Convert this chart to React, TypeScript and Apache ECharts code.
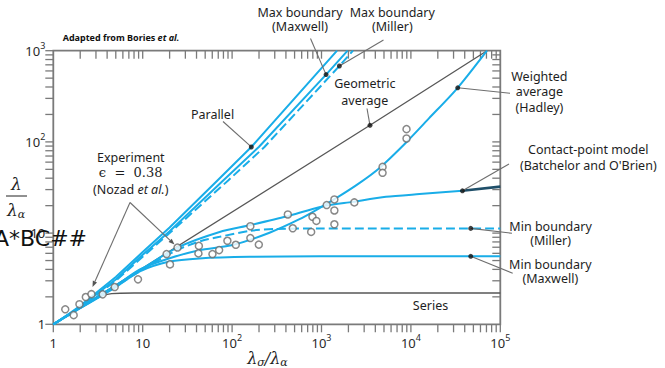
import React, { useEffect, useRef } from 'react';
import * as echarts from 'echarts';

// ---------- data ----------
const xTickLabels = ['1', '10', '10^2', '10^3', '10^4', '10^5'];
const yTickLabels = ['1', '10', '10^2', '10^3'];
const tickMantissas = [1, 2, 3, 4, 5, 6, 7, 8, 9];

const parallel = [[1, 1], [1.5, 1.3], [2, 1.6], [3, 2.2], [5, 3.3], [10, 6.2], [20, 11.5], [69, 38], [164, 88], [1493, 1000]];
const maxMaxwell = [[1, 1], [1.5, 1.29], [2, 1.56], [3, 2.12], [5, 3.1], [10, 5.8], [20, 10.5], [80, 38], [199, 88], [1125, 547], [1960, 1000]];
const maxMiller = [[1, 1], [1.5, 1.28], [2, 1.54], [3, 2.08], [5, 3.0], [10, 5.5], [20, 10], [91, 38], [230, 88], [1585, 680], [2250, 1000]];
const geometric = [[1, 1], [3486, 152], [71000, 1000]];
const hadley = [[1, 1], [2, 1.52], [5, 2.65], [9.3, 4.0], [20, 5.3], [43, 6.5], [102, 7.4], [262, 10.1], [567, 14.2], [948, 18.8], [1584, 25.4], [2649, 35.3], [4428, 51.5], [8790, 98], [16000, 182], [33400, 392], [71000, 1000]];
const contact = [[1, 1], [2, 1.53], [5, 2.68], [10, 4.1], [24, 6.9], [72.5, 10.3], [157, 12.2], [403, 15.2], [1000, 19.5], [2230, 22], [5260, 25], [12470, 26.8], [37700, 29.1]];
const contactEnd = [[37700, 29.1], [100000, 32.3]];
const minMiller = [[1, 1], [2, 1.52], [5, 2.6], [10, 4.0], [24, 6.5], [45, 8.2], [72.5, 9.1], [160, 10.6], [300, 11.1], [1000, 11.26], [100000, 11.26]];
const minMaxwell = [[1, 1], [2, 1.5], [3.3, 2.0], [5, 2.55], [9.3, 3.8], [20, 4.87], [43, 5.28], [157, 5.5], [950, 5.56], [100000, 5.56]];
const seriesModel = [[1, 1], [2, 1.5], [3, 1.9], [3.5, 2.05], [4.5, 2.17], [8, 2.2], [100000, 2.2]];

const experiment = [
  [1.36, 1.46], [1.69, 1.26], [1.96, 1.66], [2.31, 1.99], [2.67, 2.14], [3.57, 2.13], [4.86, 2.56],
  [8.86, 3.11], [18.5, 5.89], [20.2, 4.54], [24.5, 6.94], [42.5, 7.24], [42, 5.99], [60.3, 5.89],
  [71.6, 6.51], [88.6, 8.24], [110, 7.45], [160, 8.82], [160, 11.9], [199, 7.48], [420, 16.0],
  [477, 11.3], [766, 10.3], [792, 15.1], [877, 13.6], [1143, 20.3], [1393, 23.4], [1393, 17.7],
  [1393, 12.5], [2329, 21.7], [4820, 53.2], [4820, 45.8], [8931, 138], [8931, 109],
];

// anchor dots of the annotation pointers (on the curves)
const anchorParallel = [164, 88];
const anchorMaxMaxwell = [1125, 547];
const anchorMaxMiller = [1585, 680];
const anchorGeometric = [3486, 152];
const anchorHadley = [33400, 392];
const anchorContact = [37700, 29.1];
const anchorMinMiller = [46700, 11.26];
const anchorMinMaxwell = [46700, 5.56];

// ---------- styles ----------
const BLUE = '#19ade8';
const GREY = '#575757';
const FRAME = '#7a7a7a';
const TXT = '#1e1e1e';
const SANS = "'Noto Sans', sans-serif";
const SERIF = "'DejaVu Serif', serif";

function tickLabel(labels: string[]) {
  return (val: number) => {
    const e = Math.round(Math.log10(val));
    const lab = labels[e];
    if (lab === undefined) return '';
    const parts = lab.split('^');
    return parts.length > 1 ? `{b|${parts[0]}}{s|${parts[1]}}` : `{b|${parts[0]}}`;
  };
}

const labelRich = {
  b: { fontSize: 13, fontFamily: SANS, color: '#2a2a2a', lineHeight: 20, verticalAlign: 'middle' },
  s: { fontSize: 9, fontFamily: SANS, color: '#2a2a2a', lineHeight: 8, verticalAlign: 'top' },
};

function line(name: string, data: number[][], color: string, width: number, dashed = false, smooth = true) {
  return {
    type: 'line',
    name,
    data,
    symbol: 'none',
    showSymbol: false,
    smooth: smooth ? 0.25 : false,
    lineStyle: { color, width, type: dashed ? [9, 4] : 'solid' },
    silent: true,
    z: 3,
  };
}

export default function App() {
  const ref = useRef<HTMLDivElement>(null);

  useEffect(() => {
    const chart = echarts.init(ref.current as HTMLDivElement, undefined, { renderer: 'svg' });

    const tickData: number[][] = [];
    for (let k = 0; k < 5; k++) tickMantissas.forEach((m) => tickData.push([m * Math.pow(10, k), 1]));
    tickData.push([100000, 1]);
    for (let k = 0; k < 5; k++) tickMantissas.forEach((m) => { if (!(k === 0 && m === 1)) tickData.push([m * Math.pow(10, k), 2]); });
    for (let k = 0; k < 3; k++) tickMantissas.forEach((m) => tickData.push([m * Math.pow(10, k), 3]));
    tickData.push([1000, 3]);
    for (let k = 0; k < 3; k++) tickMantissas.forEach((m) => { if (!(k === 0 && m === 1)) tickData.push([m * Math.pow(10, k), 4]); });

    chart.setOption({
      animation: false,
      backgroundColor: '#ffffff',
      grid: {
        left: 53.3, top: 50.7, width: 447, height: 273.6,
        show: true, borderColor: FRAME, borderWidth: 1.8, backgroundColor: 'transparent',
        containLabel: false, outerBoundsMode: 'none',
      },
      xAxis: {
        type: 'log', logBase: 10, min: 1, max: 100000,
        axisLine: { show: false }, axisTick: { show: false }, splitLine: { show: false },
        axisLabel: { formatter: tickLabel(xTickLabels), rich: labelRich, margin: 9 },
      },
      yAxis: {
        type: 'log', logBase: 10, min: 1, max: 1000,
        axisLine: { show: false }, axisTick: { show: false }, splitLine: { show: false },
        axisLabel: { formatter: tickLabel(yTickLabels), rich: labelRich, margin: 8 },
      },
      series: [
        line('Series', seriesModel, GREY, 1.4),
        line('Geometric average', geometric, GREY, 1.3, false, false),
        line('Min boundary (Maxwell)', minMaxwell, BLUE, 2),
        line('Min boundary (Miller)', minMiller, BLUE, 2, true),
        line('Contact-point model', contact, BLUE, 2),
        line('Contact-point model end', contactEnd, '#1f4f69', 2.6, false, false),
        line('Weighted average (Hadley)', hadley, BLUE, 2),
        line('Parallel', parallel, BLUE, 2, false, false),
        line('Max boundary (Maxwell)', maxMaxwell, BLUE, 2, false, false),
        line('Max boundary (Miller)', maxMiller, BLUE, 2, true, false),
        {
          type: 'scatter', name: 'Experiment', data: experiment, symbol: 'circle', symbolSize: 7,
          itemStyle: { color: '#ffffff', borderColor: '#6a6a6a', borderWidth: 1.5 }, z: 5, silent: true,
        },
        {
          type: 'scatter', name: 'anchors',
          data: [anchorParallel, anchorMaxMaxwell, anchorMaxMiller, anchorGeometric, anchorHadley, anchorContact, anchorMinMiller, anchorMinMaxwell],
          symbol: 'circle', symbolSize: 5, itemStyle: { color: '#111111' }, z: 6, silent: true,
        },
        {
          type: 'custom', name: 'ticks', data: tickData, silent: true, z: 2, clip: false,
          renderItem: (params: any, api: any) => {
            const v = api.value(0);
            const side = api.value(1);
            const L = 8;
            let x1 = 0, y1 = 0, x2 = 0, y2 = 0;
            if (side === 1) { const p = api.coord([v, 1]); x1 = x2 = p[0]; y1 = p[1]; y2 = p[1] + L; }
            else if (side === 2) { const p = api.coord([v, 1000]); x1 = x2 = p[0]; y1 = p[1]; y2 = p[1] + L; }
            else if (side === 3) { const p = api.coord([1, v]); y1 = y2 = p[1]; x1 = p[0] - L; x2 = p[0]; }
            else { const p = api.coord([100000, v]); y1 = y2 = p[1]; x1 = p[0] - L; x2 = p[0]; }
            return { type: 'line', shape: { x1, y1, x2, y2 }, style: { stroke: FRAME, lineWidth: 1.3 } };
          },
        },
      ],
    });

    const toPx = (p: number[]) => chart.convertToPixel({ xAxisIndex: 0, yAxisIndex: 0 }, p) as number[];
    const pointer = (anchor: number[], ex: number, ey: number) => {
      const p = toPx(anchor);
      return { type: 'line', shape: { x1: p[0], y1: p[1], x2: ex, y2: ey }, style: { stroke: '#6e6e6e', lineWidth: 1.1 }, z: 4 };
    };
    const arrow = (x1: number, y1: number, x2: number, y2: number) => {
      const dx = x2 - x1, dy = y2 - y1;
      const L = Math.hypot(dx, dy);
      const ux = dx / L, uy = dy / L;
      const bx = x2 - ux * 6, by = y2 - uy * 6;
      const nx = -uy * 2.3, ny = ux * 2.3;
      return [
        { type: 'line', shape: { x1, y1, x2: bx, y2: by }, style: { stroke: '#6e6e6e', lineWidth: 1.1 }, z: 4 },
        { type: 'polygon', shape: { points: [[x2, y2], [bx + nx, by + ny], [bx - nx, by - ny]] }, style: { fill: '#555' }, z: 4 },
      ];
    };
    const txt = (text: string, x: number, y: number, extra: any = {}) => ({
      type: 'text', x, y, z: 10,
      style: { text, fontSize: 12.5, lineHeight: 14, fontFamily: SANS, fill: TXT, align: 'center', verticalAlign: 'middle', ...extra },
    });

    chart.setOption({
      graphic: [
        pointer(anchorParallel, 223, 121.5),
        pointer(anchorMaxMaxwell, 310.5, 38.5),
        pointer(anchorMaxMiller, 383.5, 40),
        pointer(anchorGeometric, 367, 108.5),
        pointer(anchorHadley, 510, 93.3),
        pointer(anchorContact, 509, 164),
        pointer(anchorMinMiller, 512, 233.3),
        pointer(anchorMinMaxwell, 512.7, 273.3),
        ...arrow(130, 202.5, 92.5, 287),
        ...arrow(130, 202.5, 174.5, 244.5),

        txt('Max boundary\n(Maxwell)', 300, 19.7, { lineHeight: 14 }),
        txt('Max boundary\n(Miller)', 392.3, 19.7, { lineHeight: 14 }),
        txt('Parallel', 212.5, 114.3),
        txt('Geometric\naverage', 364.8, 91.7, { lineHeight: 16.7 }),
        txt('Weighted\naverage\n(Hadley)', 539.4, 91.7, { lineHeight: 15.6 }),
        txt("Contact-point model\n(Batchelor and O'Brien)", 588.3, 157.2, { lineHeight: 15.7 }),
        txt('Min boundary\n(Miller)', 550.6, 233.4, { lineHeight: 14.7 }),
        txt('Min boundary\n(Maxwell)', 550.3, 271.2, { lineHeight: 14.3 }),
        txt('Series', 430.5, 305),
        txt('Experiment', 130.8, 157.7),
        txt('ϵ  =  0.38', 130.7, 172.7, { fontFamily: SERIF, fontSize: 13 }),
        txt('{n|(Nozad }{i|et al.}{n|)}', 130.7, 189, {
          rich: {
            n: { fontSize: 12.5, fontFamily: SANS, fill: TXT },
            i: { fontSize: 12.5, fontFamily: SANS, fontStyle: 'italic', fill: TXT },
          },
        }),
        txt('{b|Adapted from Bories }{i|et al.}', 62.7, 37.7, {
          align: 'left',
          rich: {
            b: { fontSize: 9, fontFamily: SANS, fontWeight: 'bold', fill: '#111' },
            i: { fontSize: 9, fontFamily: SANS, fontWeight: 'bold', fontStyle: 'italic', fill: '#111' },
          },
        }),
        // y axis name as a fraction
        txt('λ', 16.5, 183.5, { fontFamily: SERIF, fontStyle: 'italic', fontSize: 17, lineHeight: 18 }),
        { type: 'line', shape: { x1: 6, y1: 196, x2: 27, y2: 196 }, style: { stroke: '#222', lineWidth: 1 }, z: 10 },
        txt('{m|λ}{s|α}', 16, 209.5, {
          rich: {
            m: { fontSize: 17, fontFamily: SERIF, fontStyle: 'italic', fill: TXT, lineHeight: 20, verticalAlign: 'middle' },
            s: { fontSize: 11, fontFamily: SERIF, fontStyle: 'italic', fill: TXT, lineHeight: 10, verticalAlign: 'bottom' },
          },
        }),
        // x axis name
        txt('{m|λ}{s|σ}{m|/λ}{s|α}', 267.5, 358, {
          rich: {
            m: { fontSize: 16, fontFamily: SERIF, fontStyle: 'italic', fill: TXT, lineHeight: 20, verticalAlign: 'middle' },
            s: { fontSize: 11, fontFamily: SERIF, fontStyle: 'italic', fill: TXT, lineHeight: 10, verticalAlign: 'bottom' },
          },
        }),
        txt('A*BC##', 87, 238.3, { align: 'right', fontSize: 22, lineHeight: 22, fontFamily: "'DejaVu Sans', sans-serif", fill: '#111' }),
      ],
    });

    return () => chart.dispose();
  }, []);

  return (
    <div
      ref={ref}
      style={{ position: 'fixed', left: 0, top: 0, width: 665, height: 368, background: '#ffffff' }}
    />
  );
}
